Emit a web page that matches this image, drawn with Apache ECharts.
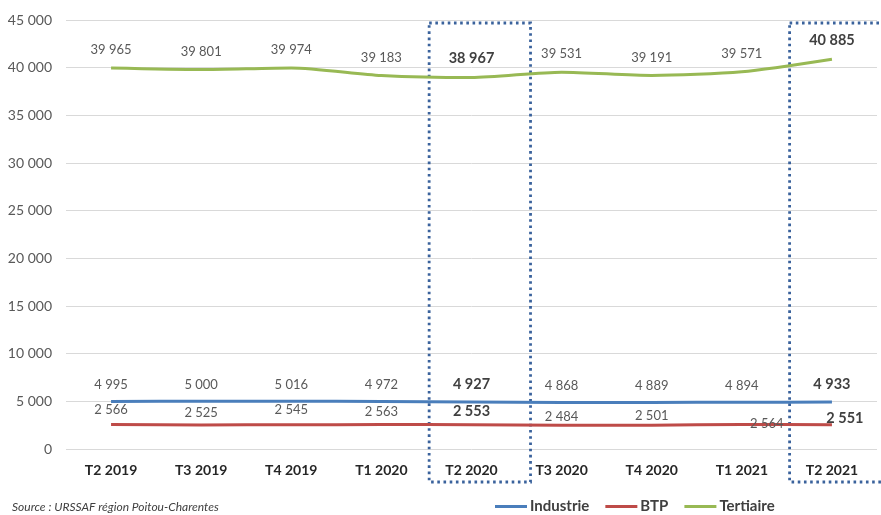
<!DOCTYPE html>
<html><head><meta charset="utf-8">
<script src="https://cdn.jsdelivr.net/npm/echarts@6/dist/echarts.min.js"></script>
<style>html,body{margin:0;padding:0;background:#fff}#c{width:881px;height:515px}</style>
</head><body><div id="c"></div>
<script>
const categories = ['T2 2019','T3 2019','T4 2019','T1 2020','T2 2020','T3 2020','T4 2020','T1 2021','T2 2021'];
const industrie = [4995, 5000, 5016, 4972, 4927, 4868, 4889, 4894, 4933];
const btp = [2566, 2525, 2545, 2563, 2553, 2484, 2501, 2564, 2551];
const tertiaire = [39965, 39801, 39974, 39183, 38967, 39531, 39191, 39571, 40885];
const yTicks = [0, 5000, 10000, 15000, 20000, 25000, 30000, 35000, 40000, 45000];
const highlighted = ['T2 2020', 'T2 2021'];
const seriesNames = ['Industrie', 'BTP', 'Tertiaire'];
const sourceText = 'Source : URSSAF région Poitou-Charentes';

// label placement tweaks (style only)
const btpLabelOffsets = [[0,-3],[0,-0.5],[0,-3],[0,-1.5],[0,-0.5],[0,2.5],[0,2.5],[25,11],[13,6.5]];

const FONT = 'Lato, "Liberation Sans", sans-serif';
const fmt = n => String(n).replace(/\B(?=(\d{3})+(?!\d))/g, ' ');

function buildData(values, dist, offsets) {
  return values.map((v, i) => {
    const hi = highlighted.includes(categories[i]);
    const label = {
      show: true,
      distance: dist,
      fontWeight: hi ? 'bold' : 'normal',
      fontSize: hi ? 14.5 : 13,
      color: hi ? '#404040' : '#595959'
    };
    if (offsets) label.offset = offsets[i];
    return { value: v, label };
  });
}

const chart = echarts.init(document.getElementById('c'), null, { renderer: 'canvas' });

function lineSeries(name, values, color, dist, offsets) {
  return {
    name, type: 'line', data: buildData(values, dist, offsets),
    symbol: 'circle', symbolSize: 0.01, showSymbol: true,
    smooth: 0.25, lineStyle: { color, width: 3 }, itemStyle: { color },
    label: { show: true, position: 'top', fontFamily: FONT, formatter: p => fmt(p.value) },
    emphasis: { disabled: true }, animation: false
  };
}

chart.setOption({
  animation: false,
  grid: { left: 66, right: 4, top: 20, bottom: 66, containLabel: false },
  xAxis: {
    type: 'category', data: categories, boundaryGap: true,
    axisLine: { show: false }, axisTick: { show: false },
    axisLabel: { color: '#262626', fontWeight: 'bold', fontSize: 14, fontFamily: FONT, margin: 14, interval: 0 }
  },
  yAxis: {
    type: 'value', min: yTicks[0], max: yTicks[yTicks.length - 1], interval: yTicks[1] - yTicks[0],
    axisLine: { show: false }, axisTick: { show: false },
    axisLabel: { color: '#595959', fontSize: 14, fontFamily: FONT, margin: 14, formatter: v => fmt(v) },
    splitLine: { lineStyle: { color: '#D9D9D9', width: 1 } }
  },
  legend: {
    data: seriesNames, left: 495, top: 499, padding: 0, itemWidth: 32, itemHeight: 3, itemGap: 16,
    icon: 'rect',
    textStyle: { color: '#404040', fontWeight: 'bold', fontSize: 15, fontFamily: FONT, padding: [0, 0, 0, -2] }
  },
  tooltip: { show: false },
  series: [
    lineSeries('Industrie', industrie, '#4A7EBB', 10),
    lineSeries('BTP', btp, '#BE4B48', 5, btpLabelOffsets),
    lineSeries('Tertiaire', tertiaire, '#98B954', 11.5)
  ]
});

// highlight boxes around selected quarters, positioned from axis scale
function boxes() {
  const c1 = chart.convertToPixel({ xAxisIndex: 0 }, 'T2 2020');
  const c0 = chart.convertToPixel({ xAxisIndex: 0 }, 'T1 2020');
  const band = c1 - c0;
  const yTop = chart.convertToPixel({ yAxisIndex: 0 }, yTicks[yTicks.length - 1]) + 3;
  const yBot = chart.convertToPixel({ yAxisIndex: 0 }, 0) + 33;
  const els = highlighted.map(cat => {
    const c = chart.convertToPixel({ xAxisIndex: 0 }, cat);
    const x0 = c - 0.47 * band, x1 = c + 0.655 * band;
    return {
      type: 'rect', silent: true,
      shape: { x: x0, y: yTop, width: x1 - x0, height: yBot - yTop },
      style: { fill: 'none', stroke: '#3A629C', lineWidth: 2.8, lineDash: [2.6, 3.6] }
    };
  });
  els.push({ type: 'text', left: 12, top: 501, style: { text: sourceText, font: 'italic 12px ' + FONT, fill: '#404040' } });
  chart.setOption({ graphic: els });
}
boxes();
</script>
</body></html>
